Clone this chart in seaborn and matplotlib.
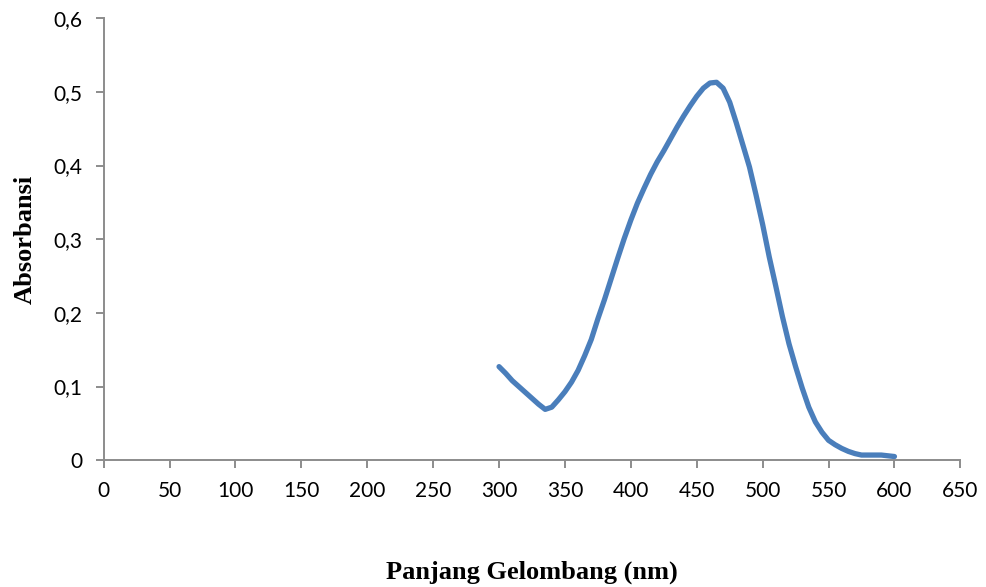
import matplotlib
matplotlib.use("Agg")
import matplotlib.pyplot as plt
from matplotlib.ticker import FuncFormatter, MultipleLocator
import pandas as pd
import seaborn as sns

# Absorption spectrum, wavelength in nm
wavelength = [300, 305, 310, 315, 320, 325, 330, 335, 340, 345,
              350, 355, 360, 365, 370, 375, 380, 385, 390, 395,
              400, 405, 410, 415, 420, 425, 430, 435, 440, 445,
              450, 455, 460, 465, 470, 475, 480, 485, 490, 495,
              500, 505, 510, 515, 520, 525, 530, 535, 540, 545,
              550, 555, 560, 565, 570, 575, 580, 585, 590, 595, 600]
absorbance = [0.127, 0.118, 0.108, 0.100, 0.092, 0.084, 0.076, 0.069, 0.072, 0.082,
              0.093, 0.106, 0.122, 0.142, 0.164, 0.192, 0.218, 0.246, 0.274, 0.301,
              0.326, 0.349, 0.369, 0.388, 0.405, 0.420, 0.436, 0.452, 0.467, 0.481,
              0.494, 0.505, 0.512, 0.513, 0.505, 0.486, 0.458, 0.428, 0.398, 0.360,
              0.320, 0.276, 0.236, 0.195, 0.158, 0.127, 0.098, 0.072, 0.052, 0.038,
              0.027, 0.021, 0.016, 0.012, 0.009, 0.007, 0.007, 0.007, 0.007, 0.006, 0.005]

df = pd.DataFrame({"wavelength": wavelength, "absorbance": absorbance})

sns.set_theme(style="white")
plt.rcParams["font.family"] = ["Lato", "DejaVu Sans"]

fig = plt.figure(figsize=(9.87, 5.87), dpi=100)
ax = fig.add_axes([0.105, 0.216, 0.868, 0.753])

sns.lineplot(data=df, x="wavelength", y="absorbance", ax=ax,
             color="#4A7EBB", linewidth=3.8, solid_capstyle="round",
             solid_joinstyle="round")

ax.set_xlim(0, 650)
ax.set_ylim(0, 0.6)
ax.xaxis.set_major_locator(MultipleLocator(50))
ax.yaxis.set_major_locator(MultipleLocator(0.1))

def comma_fmt(v, _):
    if abs(v) < 1e-9:
        return "0"
    return f"{v:.1f}".replace(".", ",")

ax.yaxis.set_major_formatter(FuncFormatter(comma_fmt))
ax.xaxis.set_major_formatter(FuncFormatter(lambda v, _: f"{int(round(v))}"))

axis_gray = "#8C8C8C"
for side in ("top", "right"):
    ax.spines[side].set_visible(False)
for side in ("left", "bottom"):
    ax.spines[side].set_color(axis_gray)
    ax.spines[side].set_linewidth(1.4)

ax.tick_params(axis="both", which="major", direction="out", length=6,
               width=1.4, color=axis_gray, labelsize=15, labelcolor="black")
ax.tick_params(axis="y", pad=9, left=True)
ax.tick_params(axis="x", pad=9, bottom=True)

label_font = dict(family=["Liberation Serif", "DejaVu Serif"], weight="bold",
                  size=19, color="black")
ax.set_xlabel("Panjang Gelombang (nm)", fontdict=label_font, labelpad=43)
ax.set_ylabel("Absorbansi", fontdict=label_font, labelpad=12)

fig.savefig("out.png", dpi=100, facecolor="white")
